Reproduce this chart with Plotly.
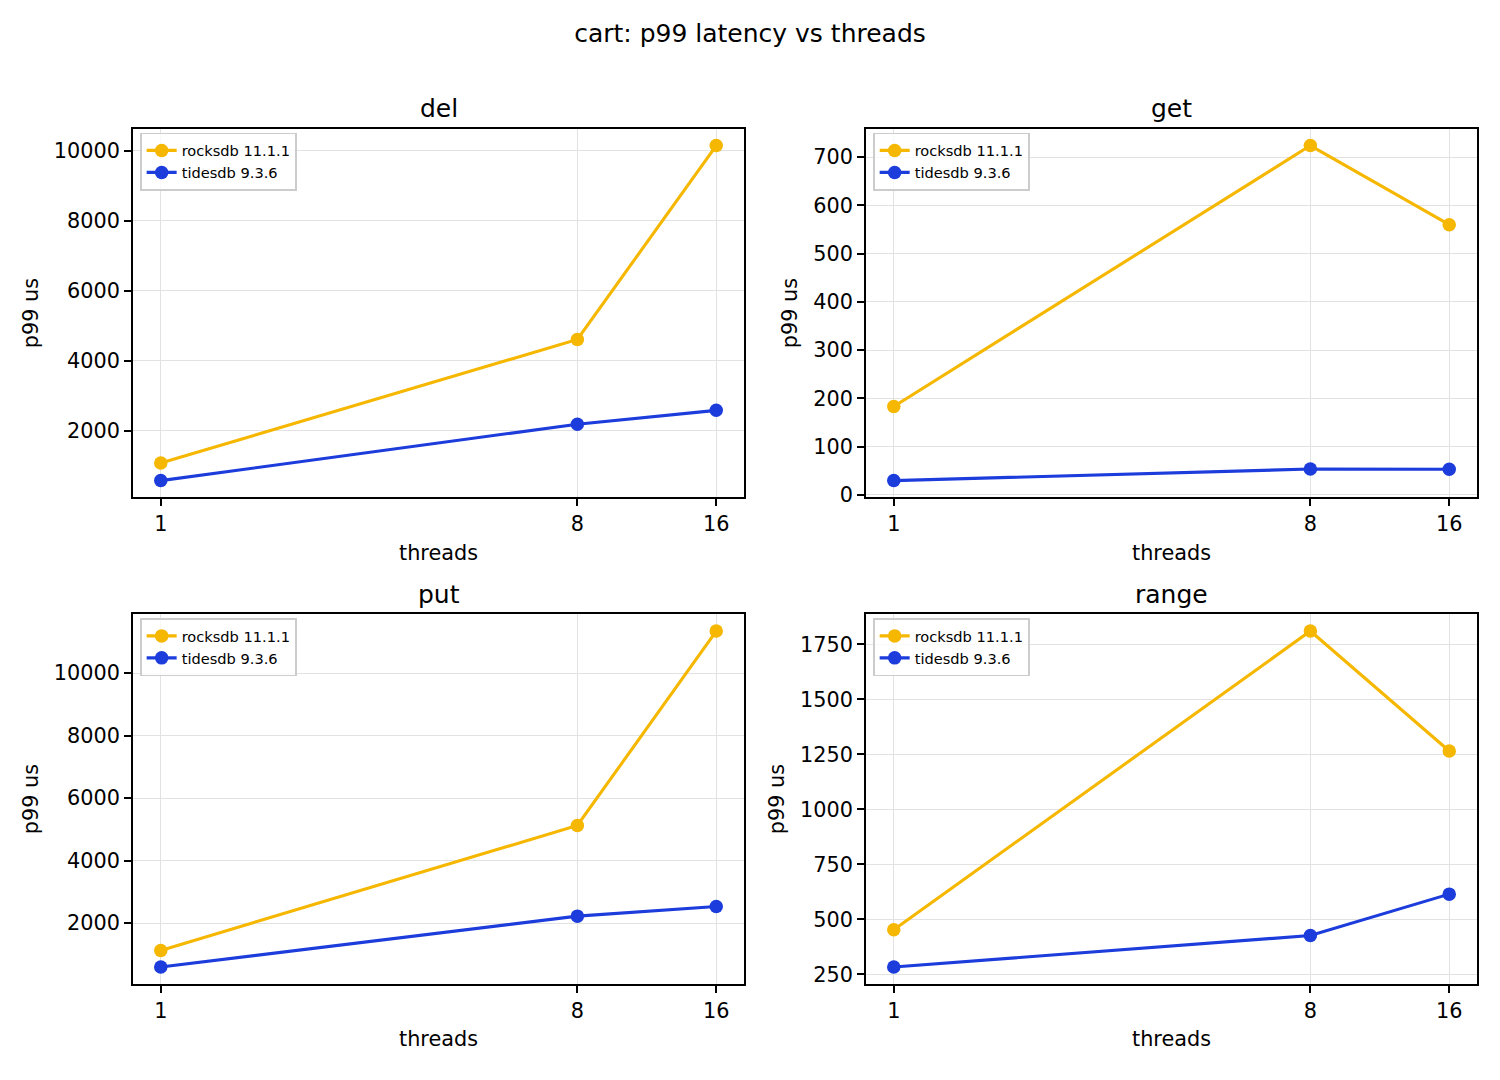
import math
import plotly.graph_objects as go

# ---- data ----
threads = [1, 8, 16]
x_tick_labels = ["1", "8", "16"]
ops = ["del", "get", "put", "range"]
series_names = ["rocksdb 11.1.1", "tidesdb 9.3.6"]

rocksdb_del = [1080, 4610, 10150]
tidesdb_del = [578, 2190, 2585]
rocksdb_get = [183, 724, 560]
tidesdb_get = [29.4, 53.4, 53.0]
rocksdb_put = [1124, 5124, 11346]
tidesdb_put = [594, 2222, 2530]
rocksdb_range = [453, 1810, 1265]
tidesdb_range = [284, 427, 615]

y_dticks = [2000, 100, 2000, 250]

# ---- styling ----
W, H = 1500, 1080
colors = ["#f5b700", "#1c3cdc"]
FONT = "DejaVu Sans"

dom_x = [[133 / W, 744 / W], [866 / W, 1477 / W], [133 / W, 744 / W], [866 / W, 1477 / W]]
dom_y = [[1 - 502 / H, 1 - 130 / H], [1 - 502 / H, 1 - 130 / H],
         [1 - 993 / H, 1 - 620 / H], [1 - 993 / H, 1 - 620 / H]]
title_y = [110, 110, 600, 600]

panel_data = [
    (rocksdb_del, tidesdb_del),
    (rocksdb_get, tidesdb_get),
    (rocksdb_put, tidesdb_put),
    (rocksdb_range, tidesdb_range),
]

fig = go.Figure()
layout = dict(
    width=W, height=H,
    margin=dict(l=0, r=0, t=0, b=0),
    paper_bgcolor="white", plot_bgcolor="white",
    font=dict(family=FONT, color="black", size=20.8),
    title=dict(text="cart: p99 latency vs threads", x=0.5, xanchor="center",
               y=1 - 33 / H, yanchor="middle", font=dict(size=25, family=FONT)),
    annotations=[],
    showlegend=True,
)

xr = [math.log10(2 ** -0.2), math.log10(2 ** 4.2)]

for i, (op, (rk, td)) in enumerate(zip(ops, panel_data)):
    n = "" if i == 0 else str(i + 1)
    leg = "legend" if i == 0 else f"legend{i + 1}"
    for s, (name, vals) in enumerate(zip(series_names, (rk, td))):
        fig.add_trace(go.Scatter(
            x=threads, y=vals, name=name, mode="lines+markers",
            line=dict(color=colors[s], width=3.1),
            marker=dict(color=colors[s], size=13.5, line=dict(width=0)),
            xaxis="x" + n, yaxis="y" + n, legend=leg,
        ))
    allv = list(rk) + list(td)
    lo, hi = min(allv), max(allv)
    span = hi - lo
    yr = [lo - 0.05 * span, hi + 0.05 * span]

    common = dict(showline=True, mirror=True, linecolor="black", linewidth=1.67,
                  ticks="outside", ticklen=7, tickwidth=1.67, tickcolor="black",
                  showgrid=True, gridcolor="#e2e2e2", gridwidth=1.2, zeroline=False,
                  tickfont=dict(size=20.8, family=FONT, color="black"))
    layout["xaxis" + n] = dict(
        domain=dom_x[i], anchor="y" + n, type="log", range=xr,
        tickmode="array", tickvals=threads, ticktext=x_tick_labels,
        title=dict(text="threads", standoff=10, font=dict(size=20.8, family=FONT)),
        **common)
    layout["yaxis" + n] = dict(
        domain=dom_y[i], anchor="x" + n, range=yr,
        tickmode="linear", tick0=0, dtick=y_dticks[i], tickformat="d",
        title=dict(text="p99 us", standoff=10, font=dict(size=20.8, family=FONT)),
        **common)
    layout[leg] = dict(
        x=dom_x[i][0] + 7 / W, y=dom_y[i][1] - 4 / H, xanchor="left", yanchor="top",
        bgcolor="rgba(255,255,255,0.8)", bordercolor="#cccccc", borderwidth=1.67,
        font=dict(size=14.6, family=FONT, color="black"), tracegroupgap=0,
    )
    layout["annotations"].append(dict(
        text=op, xref="paper", yref="paper", x=(dom_x[i][0] + dom_x[i][1]) / 2,
        y=1 - title_y[i] / H, xanchor="center", yanchor="middle", showarrow=False,
        font=dict(size=25, family=FONT, color="black"),
    ))

fig.update_layout(**layout)
fig.write_html("out.html")
